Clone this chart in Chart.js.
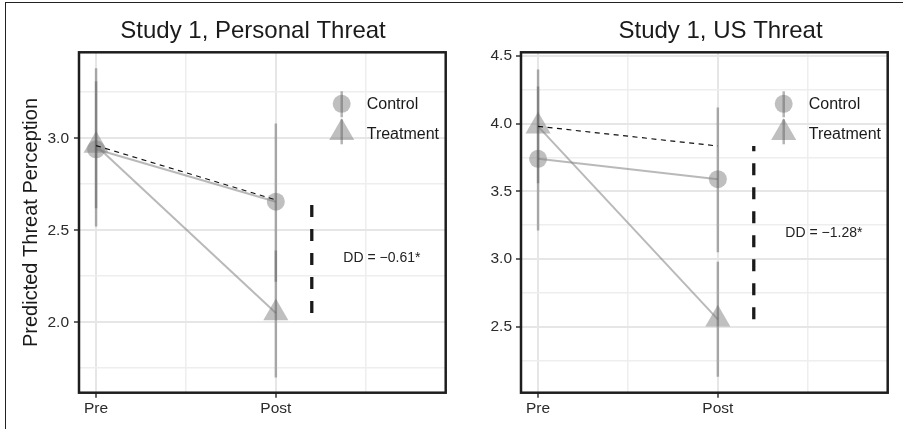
<!DOCTYPE html>
<html><head><meta charset="utf-8">
<script src="https://cdn.jsdelivr.net/npm/chart.js@4.4.0/dist/chart.umd.min.js"></script>
<style>
html,body{margin:0;padding:0;background:#fff;width:903px;height:429px;overflow:hidden;}
#frame{position:absolute;left:5px;top:2px;width:1000px;height:1000px;border-left:1.5px solid #222;border-top:1.5px solid #222;}
.wrap{position:absolute;top:0;height:429px;}
</style></head><body>
<div id="frame"></div>
<div class="wrap" style="left:0;width:450px"><canvas id="c1"></canvas></div>
<div class="wrap" style="left:450px;width:453px"><canvas id="c2"></canvas></div>
<script>
// ---------- data ----------
const categories = ['Pre', 'Post'];
const categoryX = [1, 2];
const xMinorGrid = [1.5, 2.5];
const xRange = [0.905, 2.945];
const seriesNames = ['Control', 'Treatment'];
const yAxisTitle = 'Predicted Threat Perception';
const ddLineX = 2.2;
const ddLabelX = 2.59;

// Panel 1: Personal threat
const p1Title = 'Study 1, Personal Threat';
const p1Control = [2.94, 2.655];
const p1ControlLo = [2.52, 2.22];
const p1ControlHi = [3.38, 3.08];
const p1Treatment = [2.96, 2.05];
const p1TreatmentLo = [2.62, 1.70];
const p1TreatmentHi = [3.31, 2.39];
const p1Counterfactual = [2.96, 2.665];
const p1DDLabel = 'DD = \u22120.61*';
const p1DDLabelY = 2.35;
const p1YTicks = [2.0, 2.5, 3.0];
const p1YMinor = [1.75, 2.25, 2.75, 3.25];
const p1YRange = [1.617, 3.467];

// Panel 2: US threat
const p2Title = 'Study 1, US Threat';
const p2Control = [3.74, 3.59];
const p2ControlLo = [3.21, 3.05];
const p2ControlHi = [4.275, 4.12];
const p2Treatment = [3.98, 2.555];
const p2TreatmentLo = [3.56, 2.13];
const p2TreatmentHi = [4.40, 2.98];
const p2Counterfactual = [3.98, 3.835];
const p2DDLabel = 'DD = \u22121.28*';
const p2DDLabelY = 3.19;
const p2YTicks = [2.5, 3.0, 3.5, 4.0, 4.5];
const p2YMinor = [2.25, 2.75, 3.25, 3.75, 4.25];
const p2YRange = [2.013, 4.527];

// ---------- styling ----------
const FONT = "'Liberation Sans', Arial, Helvetica, sans-serif";
const POINT_FILL = 'rgba(128,128,128,0.5)';
const LINE_COL = 'rgba(128,128,128,0.55)';
const BAR_COL = 'rgba(89,89,89,0.45)';

function near(a, list) { return list.some(v => Math.abs(v - a) < 1e-6); }

const panelPlugin = {
  id: 'panelDeco',
  afterDraw(chart, args, opts) {
    const ctx = chart.ctx, a = chart.chartArea;
    ctx.save();
    // border
    ctx.strokeStyle = '#1e1e1e';
    ctx.lineWidth = 2.5;
    ctx.strokeRect(a.left, a.top, a.right - a.left, a.bottom - a.top);
    // title
    ctx.fillStyle = '#1a1a1a';
    ctx.font = '24px ' + FONT;
    ctx.textAlign = 'center';
    ctx.textBaseline = 'alphabetic';
    ctx.fillText(opts.title, opts.titleX, 37.5);
    // DD label
    const xs = chart.scales.x, ys = chart.scales.y;
    ctx.font = '14px ' + FONT;
    ctx.fillStyle = '#222';
    ctx.textBaseline = 'middle';
    ctx.fillText(opts.ddLabel, xs.getPixelForValue(ddLabelX), ys.getPixelForValue(opts.ddLabelY));
    // legend
    const kx = a.right - 104;
    const cy = a.top + 51.5, ty = a.top + 80.5;
    ctx.fillStyle = POINT_FILL;
    ctx.beginPath(); ctx.arc(kx, cy, 9, 0, Math.PI * 2); ctx.fill();
    const r = 14.5;
    ctx.beginPath();
    ctx.moveTo(kx, ty - r);
    ctx.lineTo(kx + r * Math.sin(2 * Math.PI / 3), ty - r * Math.cos(2 * Math.PI / 3));
    ctx.lineTo(kx + r * Math.sin(4 * Math.PI / 3), ty - r * Math.cos(4 * Math.PI / 3));
    ctx.closePath(); ctx.fill();
    ctx.strokeStyle = BAR_COL; ctx.lineWidth = 2.5;
    ctx.beginPath(); ctx.moveTo(kx, cy - 12.5); ctx.lineTo(kx, cy + 13.5); ctx.stroke();
    ctx.beginPath(); ctx.moveTo(kx, ty - 13.5); ctx.lineTo(kx, ty + 11.5); ctx.stroke();
    ctx.fillStyle = '#1a1a1a';
    ctx.font = '16px ' + FONT;
    ctx.textAlign = 'left';
    ctx.fillText(seriesNames[0], a.right - 79, a.top + 52);
    ctx.fillText(seriesNames[1], a.right - 79, a.top + 82);
    ctx.restore();
  }
};

function pts(vals) { return vals.map((v, i) => ({x: categoryX[i], y: v})); }

function makeChart(id, cfg) {
  const datasets = [];
  // connecting lines + points
  datasets.push({label: seriesNames[0], data: pts(cfg.control), borderColor: LINE_COL, borderWidth: 2,
    pointStyle: 'circle', pointRadius: 9, pointBackgroundColor: POINT_FILL, pointBorderWidth: 0, order: 4});
  datasets.push({label: seriesNames[1], data: pts(cfg.treatment), borderColor: LINE_COL, borderWidth: 2,
    pointStyle: 'triangle', pointRadius: 14.5, pointBackgroundColor: POINT_FILL, pointBorderWidth: 0, order: 4});
  // error bars
  [[cfg.controlLo, cfg.controlHi], [cfg.treatmentLo, cfg.treatmentHi]].forEach(([lo, hi]) => {
    lo.forEach((l, i) => {
      datasets.push({data: [{x: categoryX[i], y: l}, {x: categoryX[i], y: hi[i]}], borderColor: BAR_COL,
        borderWidth: 2.5, pointRadius: 0, order: 2, borderCapStyle: 'butt'});
    });
  });
  // counterfactual dashed
  datasets.push({data: pts(cfg.counterfactual), borderColor: '#111', borderWidth: 1.2, borderDash: [5, 4.5],
    pointRadius: 0, order: 1});
  // DD thick dashed
  datasets.push({data: [{x: ddLineX, y: cfg.treatment[1]}, {x: ddLineX, y: cfg.counterfactual[1]}],
    borderColor: '#1a1a1a', borderWidth: 3.3, borderDash: [12, 12], pointRadius: 0, order: 0, borderCapStyle: 'butt'});

  const xMajor = categoryX;
  const yMajor = cfg.yTicks;
  return new Chart(document.getElementById(id), {
    type: 'line',
    data: {datasets},
    plugins: [panelPlugin],
    options: {
      responsive: true, maintainAspectRatio: false, animation: false,
      layout: {autoPadding: false, padding: {top: 52.3, left: 0, bottom: 0, right: cfg.padRight}},
      plugins: {legend: {display: false}, tooltip: {enabled: false},
        panelDeco: {title: cfg.title, titleX: cfg.titleX, ddLabel: cfg.ddLabel, ddLabelY: cfg.ddLabelY}},
      scales: {
        x: {
          type: 'linear', min: xRange[0], max: xRange[1],
          afterBuildTicks: s => { s.ticks = categoryX.concat(xMinorGrid).sort().map(v => ({value: v})); },
          afterFit: s => { s.height = 36.3; s.paddingLeft = 0; s.paddingRight = 0; },
          border: {display: false},
          grid: {
            color: c => near(c.tick.value, xMajor) ? '#e6e6e6' : '#eeeeee',
            lineWidth: c => near(c.tick.value, xMajor) ? 2 : 1.5,
            tickColor: c => near(c.tick.value, xMajor) ? '#333' : 'rgba(0,0,0,0)',
            tickWidth: 1.5, tickLength: 5
          },
          ticks: {
            autoSkip: false, maxRotation: 0, padding: 2, color: '#2b2b2b',
            font: {family: FONT, size: 15.5},
            callback: v => { const i = categoryX.findIndex(c => Math.abs(c - v) < 1e-6); return i >= 0 ? categories[i] : ''; }
          }
        },
        y: {
          type: 'linear', min: cfg.yRange[0], max: cfg.yRange[1],
          afterBuildTicks: s => { s.ticks = cfg.yTicks.concat(cfg.yMinor).sort((a, b) => a - b).map(v => ({value: v})); },
          afterFit: s => { s.width = cfg.yWidth; s.paddingTop = 0; s.paddingBottom = 0; },
          border: {display: false},
          grid: {
            color: c => near(c.tick.value, yMajor) ? '#e6e6e6' : '#eeeeee',
            lineWidth: c => near(c.tick.value, yMajor) ? 2 : 1.5,
            tickColor: c => near(c.tick.value, yMajor) ? '#333' : 'rgba(0,0,0,0)',
            tickWidth: 1.5, tickLength: 5
          },
          ticks: {
            autoSkip: false, padding: cfg.yPad, color: '#2b2b2b',
            font: {family: FONT, size: 15.5},
            callback: v => near(v, yMajor) ? v.toFixed(1) : ''
          },
          title: {
            display: cfg.showYTitle, text: yAxisTitle, color: '#1a1a1a',
            font: {family: FONT, size: 20}, padding: {top: 19.7, bottom: 0}
          }
        }
      }
    }
  });
}

makeChart('c1', {
  title: p1Title, titleX: 253, ddLabel: p1DDLabel, ddLabelY: p1DDLabelY,
  control: p1Control, controlLo: p1ControlLo, controlHi: p1ControlHi,
  treatment: p1Treatment, treatmentLo: p1TreatmentLo, treatmentHi: p1TreatmentHi,
  counterfactual: p1Counterfactual, yTicks: p1YTicks, yMinor: p1YMinor, yRange: p1YRange,
  yWidth: 79, yPad: 5, padRight: 4.3, showYTitle: true
});
makeChart('c2', {
  title: p2Title, titleX: 270.5, ddLabel: p2DDLabel, ddLabelY: p2DDLabelY,
  control: p2Control, controlLo: p2ControlLo, controlHi: p2ControlHi,
  treatment: p2Treatment, treatmentLo: p2TreatmentLo, treatmentHi: p2TreatmentHi,
  counterfactual: p2Counterfactual, yTicks: p2YTicks, yMinor: p2YMinor, yRange: p2YRange,
  yWidth: 71, yPad: 4, padRight: 15.3, showYTitle: false
});
</script>
</body></html>
